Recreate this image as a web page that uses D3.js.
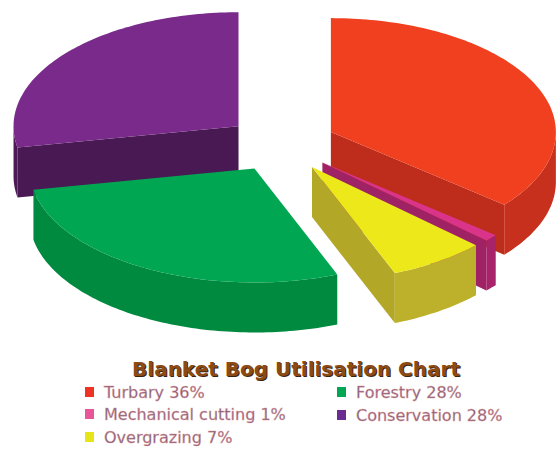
<!DOCTYPE html>
<html>
<head>
    <script src="https://d3js.org/d3.v7.min.js"></script>
    <style>
        body { margin: 0; background: #fff; font-family: "DejaVu Sans", Verdana, sans-serif; }
    </style>
</head>
<body>
<div id="chart"></div>
<script>
    // data
    const categories = ["Turbary", "Mechanical cutting", "Overgrazing", "Forestry", "Conservation"];
    const shares = [36, 1, 7, 28, 28];
    const topColors = ["#f0401f", "#d9348a", "#ede81a", "#00a651", "#7a2a8a"];
    const sideColors = ["#c8301e", "#a8246a", "#bdb02a", "#008a40", "#4d1a58"];
    const keyColors = ["#ee3324", "#e8559a", "#e5e517", "#00a651", "#6a2c91"];

    const width = 560, height = 450;
    const cx = 281, cy = 144, rx = 225, ry = 114, depth = 50, explode = 0.245;

    const svg = d3.select("#chart").append("svg")
        .attr("width", width)
        .attr("height", height);

    const pie = d3.pie().sort(null).startAngle(0).endAngle(2 * Math.PI);
    const arcs = pie(shares).map((d, i) => {
        const mid = (d.startAngle + d.endAngle) / 2;
        d.i = i;
        d.ox = cx + explode * rx * Math.sin(mid);
        d.oy = cy - explode * ry * Math.cos(mid);
        return d;
    });

    function pt(d, a, dy = 0) {
        return [d.ox + rx * Math.sin(a), d.oy - ry * Math.cos(a) + dy];
    }

    function arcPoints(d, a0, a1, dy = 0) {
        const n = Math.max(2, Math.ceil(Math.abs(a1 - a0) / 0.02));
        return d3.range(n + 1).map(k => pt(d, a0 + (a1 - a0) * k / n, dy));
    }

    const line = d3.line();

    // back to front
    const order = arcs.slice().sort((a, b) => a.oy - b.oy);

    order.forEach(d => {
        const g = svg.append("g");
        const apex = [d.ox, d.oy], apexB = [d.ox, d.oy + depth];

        // radial walls facing the viewer
        const walls = [];
        if (d.endAngle > 0.001 && d.endAngle < Math.PI) walls.push(d.endAngle);
        if (d.startAngle > Math.PI && d.startAngle < 2 * Math.PI) walls.push(d.startAngle);
        walls.forEach(a => {
            g.append("path")
                .attr("d", line([apex, pt(d, a), pt(d, a, depth), apexB]) + "Z")
                .attr("fill", d3.color(sideColors[d.i]).darker(0.15));
        });

        // outer curved side (front half only)
        const s = Math.max(d.startAngle, Math.PI / 2), e = Math.min(d.endAngle, 3 * Math.PI / 2);
        if (e > s) {
            const pts = arcPoints(d, s, e).concat(arcPoints(d, e, s, depth));
            g.append("path")
                .attr("d", line(pts) + "Z")
                .attr("fill", sideColors[d.i]);
        }

        // top face
        g.append("path")
            .attr("d", line([apex].concat(arcPoints(d, d.startAngle, d.endAngle))) + "Z")
            .attr("fill", topColors[d.i]);
    });

    // title
    const title = "Blanket Bog Utilisation Chart";
    svg.append("text")
        .attr("x", 296).attr("y", 376)
        .attr("text-anchor", "middle")
        .attr("font-size", 20).attr("font-weight", "bold")
        .attr("fill", "#3a2410")
        .attr("transform", "translate(1,1)")
        .text(title);
    svg.append("text")
        .attr("x", 296).attr("y", 376)
        .attr("text-anchor", "middle")
        .attr("font-size", 20).attr("font-weight", "bold")
        .attr("fill", "#8c4a14")
        .text(title);

    // legend
    const legendPos = [[85, 392], [85, 414], [85, 437], [337, 392], [337, 415]];
    const legend = svg.selectAll("g.key")
        .data(categories)
        .join("g")
        .attr("class", "key")
        .attr("transform", (d, i) => `translate(${legendPos[i][0]},${legendPos[i][1]})`);
    legend.append("rect")
        .attr("x", 0).attr("y", -5)
        .attr("width", 9).attr("height", 10)
        .attr("fill", (d, i) => keyColors[i]);
    legend.append("text")
        .attr("x", 19).attr("y", 6)
        .attr("font-size", 16)
        .attr("fill", "#7a5a84")
        .attr("stroke", "#e8a090").attr("stroke-width", 0.4)
        .text((d, i) => `${d} ${shares[i]}%`);
</script>
</body>
</html>
